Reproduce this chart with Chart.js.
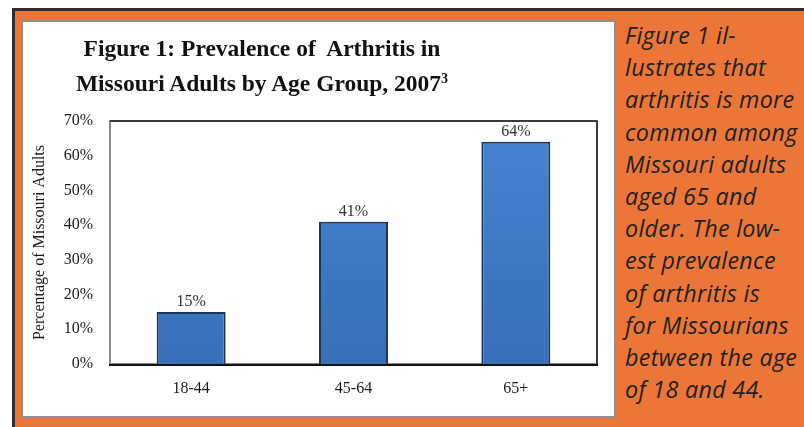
<!DOCTYPE html>
<html>
<head>
<meta charset="utf-8">
<script src="https://cdn.jsdelivr.net/npm/chart.js@4"></script>
<style>
  html, body { margin: 0; padding: 0; background: #fff; }
  body { width: 804px; height: 427px; position: relative; overflow: hidden; }
  #frame {
    position: absolute; left: 12px; top: 8px; width: 800px; height: 430px;
    background: #ec7638; border-top: 3px solid #2e2e2e; border-left: 3px solid #2e2e2e;
    box-sizing: border-box;
  }
  #panel {
    position: absolute; left: 21px; top: 20px; width: 595px; height: 398px;
    background: #fff; border: 2px solid #8f8f8f; box-sizing: border-box;
  }
  #chart-box { position: absolute; left: 21px; top: 20px; width: 595px; height: 398px; }
  #title {
    position: absolute; left: 42px; width: 440px; top: 31px;
    font-family: "Liberation Serif", serif; font-weight: bold; font-size: 23.5px;
    line-height: 35px; text-align: center; color: #111;
  }
  #title sup { font-size: 14px; vertical-align: 8px; line-height: 0; }
  #note {
    position: absolute; left: 625px; top: 19px; width: 200px;
    font-family: "Open Sans", sans-serif; font-style: italic; font-size: 23.3px;
    letter-spacing: 0.3px; line-height: 32.2px; color: #222; white-space: nowrap;
  }
</style>
</head>
<body>
<div id="frame"></div>
<div id="panel"></div>
<div id="chart-box"><canvas id="bar-chart"></canvas></div>
<div id="title">Figure 1: Prevalence of&nbsp; Arthritis in<br>Missouri Adults by Age Group, 2007<sup>3</sup></div>
<div id="note">Figure 1 il-<br>lustrates that<br>arthritis is more<br>common among<br>Missouri adults<br>aged 65 and<br>older. The low-<br>est prevalence<br>of arthritis is<br>for Missourians<br>between the age<br>of 18 and 44.</div>
<script>
const ageGroups = ["18-44", "45-64", "65+"];
const prevalence = [15, 41, 64];
const yTicks = [0, 10, 20, 30, 40, 50, 60, 70];

const serif = "'Liberation Serif', 'Times New Roman', serif";

// plot frame: gray box, black base line
const plotFrame = {
  id: "plotFrame",
  beforeDatasetsDraw(chart) {
    const { ctx, chartArea: a } = chart;
    ctx.save();
    ctx.lineWidth = 2;
    ctx.strokeStyle = "#8a8a8a";
    ctx.strokeRect(a.left, a.top, a.right - a.left, a.bottom - a.top);
    ctx.strokeStyle = "#3a3a3a";
    ctx.beginPath();
    ctx.moveTo(a.left, a.top);
    ctx.lineTo(a.right, a.top);
    ctx.moveTo(a.right, a.top);
    ctx.lineTo(a.right, a.bottom);
    ctx.stroke();
    ctx.strokeStyle = "#111";
    ctx.beginPath();
    ctx.moveTo(a.left - 1, a.bottom + 1);
    ctx.lineTo(a.right + 1, a.bottom + 1);
    ctx.stroke();
    ctx.restore();
  },
};

// value labels above the bars
const barLabels = {
  id: "barLabels",
  afterDatasetsDraw(chart) {
    const { ctx } = chart;
    const meta = chart.getDatasetMeta(0);
    ctx.save();
    ctx.font = "16px " + serif;
    ctx.fillStyle = "#333";
    ctx.textAlign = "center";
    ctx.textBaseline = "bottom";
    meta.data.forEach((bar, i) => {
      ctx.fillText(prevalence[i] + "%", bar.x, bar.y - 2);
    });
    ctx.restore();
  },
};

const barChart = document.getElementById("bar-chart");
window.myBarChart = new Chart(barChart, {
  type: "bar",
  data: {
    labels: ageGroups,
    datasets: [
      {
        data: prevalence,
        backgroundColor: (context) => {
          const area = context.chart.chartArea;
          if (!area) return "#3b7ac6";
          const g = context.chart.ctx.createLinearGradient(0, area.top, 0, area.bottom);
          g.addColorStop(0, "#4585d2");
          g.addColorStop(1, "#3670b8");
          return g;
        },
        borderColor: "#1d3558",
        borderWidth: 2,
        borderSkipped: "bottom",
        barPercentage: 0.425,
        categoryPercentage: 1,
      },
    ],
  },
  plugins: [plotFrame, barLabels],
  options: {
    responsive: true,
    maintainAspectRatio: false,
    animation: false,
    layout: { padding: { top: 101, right: 19, bottom: 0, left: 0 } },
    scales: {
      x: {
        grid: { display: false, drawTicks: false },
        border: { display: false },
        ticks: { padding: 15, color: "#1a1a1a", font: { family: serif, size: 16 } },
        afterFit: (scale) => { scale.height = 54; },
      },
      y: {
        min: 0,
        max: 70,
        afterBuildTicks: (scale) => { scale.ticks = yTicks.map((v) => ({ value: v })); },
        grid: { display: false, drawTicks: false },
        border: { display: false },
        ticks: {
          padding: 17,
          color: "#1a1a1a",
          font: { family: serif, size: 16 },
          callback: (v) => v + "%",
        },
        title: {
          display: true,
          text: "Percentage of Missouri Adults",
          color: "#1a1a1a",
          font: { family: serif, size: 16 },
          padding: { top: 9, bottom: 0 },
        },
        afterFit: (scale) => { scale.width = 89; },
      },
    },
    plugins: {
      legend: { display: false },
      tooltip: { enabled: false },
    },
  },
});
</script>
</body>
</html>
